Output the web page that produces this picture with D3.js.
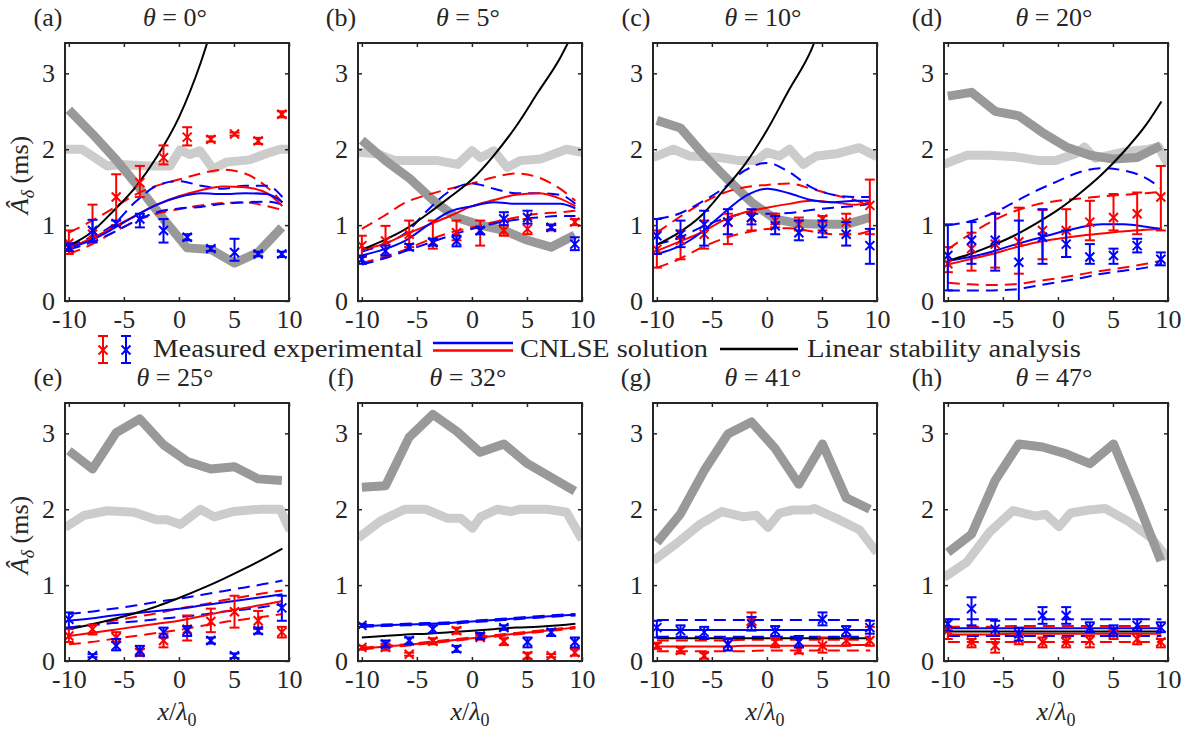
<!DOCTYPE html>
<html>
<head>
<meta charset="utf-8">
<script src="https://cdn.jsdelivr.net/npm/d3@7"></script>
<style>
  html, body { margin: 0; padding: 0; background: #ffffff; }
  svg { display: block; }
</style>
</head>
<body>
<svg id="fig" width="1191" height="731"></svg>
<script>
// ---- data ---------------------------------------------------------------
const panelTags = ["(a)", "(b)", "(c)", "(d)", "(e)", "(f)", "(g)", "(h)"];
const angles = [0, 5, 10, 20, 25, 32, 41, 47];
const xTicks = [-10, -5, 0, 5, 10];
const yTicks = [0, 1, 2, 3];

// measurement stations (x / lambda_0)
const xMeas = [-10.0, -7.85, -5.7, -3.55, -1.4, 0.75, 2.9, 5.05, 7.2, 9.35];

// measured amplitudes, one row per panel: mean, lower and upper error limits
const redMean = [
  [0.76, 0.88, 1.37, 1.56, 1.89, 2.16, 2.13, 2.20, 2.11, 2.46],
  [0.73, 0.79, 0.88, 0.78, 0.90, 0.93, 0.93, 0.95, 0.97, 1.04],
  [0.68, 0.80, 0.88, 1.04, 1.10, 1.06, 1.01, 1.08, 1.04, 1.26],
  [0.49, 0.69, 0.75, 0.78, 0.93, 0.93, 1.04, 1.10, 1.15, 1.37],
  [0.33, 0.42, 0.31, 0.11, 0.27, 0.42, 0.52, 0.65, 0.53, 0.38],
  [0.18, 0.18, 0.09, 0.26, 0.40, 0.31, 0.26, 0.07, 0.07, 0.11],
  [0.20, 0.14, 0.07, 0.22, 0.53, 0.25, 0.14, 0.20, 0.27, 0.27],
  [0.40, 0.25, 0.20, 0.29, 0.25, 0.25, 0.27, 0.36, 0.29, 0.25]
];
const redLow = [
  [0.62, 0.77, 1.00, 1.37, 1.80, 2.05, 2.10, 2.18, 2.07, 2.42],
  [0.58, 0.60, 0.71, 0.69, 0.80, 0.73, 0.86, 0.88, 0.93, 1.00],
  [0.44, 0.55, 0.69, 0.75, 0.93, 0.97, 0.93, 0.93, 0.88, 0.88],
  [0.38, 0.40, 0.44, 0.36, 0.55, 0.58, 0.80, 0.93, 0.88, 0.93],
  [0.25, 0.35, 0.25, 0.07, 0.18, 0.27, 0.38, 0.44, 0.42, 0.31],
  [0.15, 0.14, 0.07, 0.22, 0.36, 0.28, 0.21, 0.03, 0.05, 0.07],
  [0.16, 0.10, 0.03, 0.14, 0.47, 0.18, 0.10, 0.11, 0.20, 0.20],
  [0.29, 0.18, 0.11, 0.22, 0.18, 0.18, 0.18, 0.29, 0.22, 0.18]
];
const redHigh = [
  [0.93, 1.27, 1.67, 1.78, 2.05, 2.29, 2.17, 2.22, 2.15, 2.50],
  [0.86, 0.99, 1.06, 1.06, 1.06, 1.06, 1.06, 1.08, 1.01, 1.08],
  [0.93, 0.93, 1.06, 1.15, 1.17, 1.15, 1.10, 1.12, 1.15, 1.60],
  [0.71, 0.90, 1.15, 1.23, 1.20, 1.21, 1.32, 1.41, 1.43, 1.78],
  [0.42, 0.48, 0.38, 0.16, 0.36, 0.60, 0.69, 0.86, 0.66, 0.45],
  [0.20, 0.22, 0.11, 0.30, 0.44, 0.34, 0.30, 0.11, 0.09, 0.16],
  [0.24, 0.18, 0.11, 0.30, 0.64, 0.31, 0.18, 0.31, 0.33, 0.45],
  [0.44, 0.29, 0.29, 0.36, 0.31, 0.31, 0.33, 0.40, 0.36, 0.29]
];
const blueMean = [
  [0.71, 0.93, 1.02, 1.08, 0.93, 0.84, 0.69, 0.64, 0.62, 0.62],
  [0.55, 0.66, 0.71, 0.77, 0.79, 0.93, 1.08, 1.10, 0.97, 0.75],
  [0.86, 0.88, 1.01, 1.04, 1.10, 0.99, 0.90, 0.95, 0.88, 0.73],
  [0.60, 0.80, 0.80, 0.51, 0.84, 0.75, 0.58, 0.60, 0.73, 0.55],
  [0.55, 0.07, 0.20, 0.14, 0.38, 0.40, 0.27, 0.07, 0.40, 0.70],
  [0.47, 0.22, 0.27, 0.42, 0.16, 0.33, 0.44, 0.25, 0.38, 0.25],
  [0.44, 0.40, 0.38, 0.22, 0.49, 0.40, 0.25, 0.55, 0.40, 0.44],
  [0.49, 0.69, 0.42, 0.36, 0.60, 0.60, 0.44, 0.40, 0.47, 0.44]
];
const blueLow = [
  [0.66, 0.78, 0.99, 0.97, 0.77, 0.80, 0.66, 0.53, 0.59, 0.58],
  [0.49, 0.60, 0.67, 0.73, 0.72, 0.88, 1.00, 1.02, 0.94, 0.67],
  [0.62, 0.71, 0.73, 0.88, 1.01, 0.88, 0.80, 0.84, 0.73, 0.49],
  [0.14, 0.49, 0.40, 0.00, 0.49, 0.58, 0.49, 0.49, 0.64, 0.47],
  [0.44, 0.05, 0.14, 0.07, 0.31, 0.33, 0.23, 0.04, 0.36, 0.53],
  [0.45, 0.18, 0.22, 0.37, 0.12, 0.29, 0.41, 0.18, 0.33, 0.18],
  [0.31, 0.31, 0.29, 0.14, 0.40, 0.33, 0.18, 0.47, 0.33, 0.36],
  [0.40, 0.47, 0.33, 0.27, 0.49, 0.49, 0.38, 0.33, 0.40, 0.38]
];
const blueHigh = [
  [0.76, 1.07, 1.06, 1.15, 1.08, 0.88, 0.72, 0.82, 0.65, 0.65],
  [0.60, 0.73, 0.75, 0.82, 0.86, 0.97, 1.17, 1.19, 1.00, 0.84],
  [1.08, 1.06, 1.19, 1.21, 1.21, 1.12, 1.06, 1.06, 1.04, 0.95],
  [1.01, 1.04, 1.15, 1.06, 1.21, 0.93, 0.75, 0.69, 0.82, 0.64],
  [0.64, 0.09, 0.29, 0.20, 0.44, 0.46, 0.31, 0.10, 0.44, 0.86],
  [0.49, 0.27, 0.31, 0.47, 0.20, 0.37, 0.47, 0.31, 0.42, 0.31],
  [0.53, 0.47, 0.45, 0.29, 0.58, 0.46, 0.33, 0.64, 0.46, 0.53],
  [0.55, 0.84, 0.53, 0.44, 0.71, 0.71, 0.51, 0.47, 0.55, 0.51]
];

// reference amplitude traces (thick grey), [x, A] pairs per panel
const darkGrey = [
  [[-10, 2.52], [-7.85, 2.2], [-5.7, 1.86], [-3.55, 1.48], [-1.4, 1.08], [0.75, 0.7], [2.9, 0.68], [5.05, 0.5], [7.2, 0.64], [9.35, 0.97]],
  [[-10, 2.12], [-7.85, 1.85], [-5.7, 1.62], [-3.55, 1.33], [-1.4, 1.1], [0.75, 1.0], [2.9, 0.93], [5.05, 0.8], [7.2, 0.71], [9.35, 0.87]],
  [[-10, 2.38], [-7.85, 2.28], [-5.7, 1.92], [-3.55, 1.6], [-1.4, 1.3], [0.75, 1.08], [2.9, 1.02], [5.05, 1.01], [7.2, 1.01], [9.35, 1.1]],
  [[-10, 2.7], [-7.85, 2.75], [-5.7, 2.5], [-3.55, 2.44], [-1.4, 2.22], [0.75, 2.03], [2.9, 1.92], [5.05, 1.87], [7.2, 1.89], [9.35, 2.05]],
  [[-10, 2.77], [-7.85, 2.53], [-5.7, 3.01], [-3.55, 3.19], [-1.4, 2.85], [0.75, 2.63], [2.9, 2.53], [5.05, 2.56], [7.2, 2.4], [9.35, 2.38]],
  [[-10, 2.29], [-7.85, 2.31], [-5.7, 2.95], [-3.55, 3.25], [-1.4, 3.03], [0.75, 2.75], [2.9, 2.86], [5.05, 2.6], [7.2, 2.42], [9.35, 2.24]],
  [[-10, 1.56], [-7.85, 1.94], [-5.7, 2.51], [-3.55, 2.99], [-1.4, 3.15], [0.75, 2.8], [2.9, 2.33], [5.05, 2.86], [7.2, 2.15], [9.35, 2.0]],
  [[-10, 1.43], [-7.85, 1.67], [-5.7, 2.38], [-3.55, 2.86], [-1.4, 2.82], [0.75, 2.73], [2.9, 2.6], [5.05, 2.86], [7.2, 2.11], [9.35, 1.32]]
];
const lightGrey = [
  [[-10.35, 2.0], [-8.8, 2.0], [-6.5, 1.78], [-5.3, 1.8], [-2.9, 1.78], [-0.8, 1.78], [0.1, 1.99], [1.0, 1.93], [1.9, 1.98], [3.1, 1.74], [4.3, 1.83], [6.4, 1.86], [7.9, 1.94], [9.2, 2.0], [10, 2.0]],
  [[-10.35, 1.96], [-8.6, 1.94], [-7.0, 1.85], [-5.2, 1.85], [-3.1, 1.85], [-1.3, 1.8], [0.0, 1.98], [0.8, 1.89], [2.0, 1.98], [3.2, 1.76], [4.4, 1.85], [6.2, 1.87], [8.6, 2.0], [10, 1.96]],
  [[-10.35, 1.89], [-8.5, 2.0], [-7.0, 1.91], [-4.3, 1.89], [-2.5, 1.85], [-0.95, 1.85], [0.0, 1.96], [1.15, 1.91], [2.05, 2.0], [3.3, 1.8], [4.5, 1.91], [6.3, 1.94], [8.4, 2.02], [10, 1.9]],
  [[-10.35, 1.8], [-8.3, 1.92], [-6.2, 1.92], [-3.8, 1.9], [-1.7, 1.85], [-0.2, 1.85], [1.6, 1.94], [2.4, 2.03], [3.4, 1.88], [5.8, 1.96], [8.25, 2.0], [9.15, 2.03], [10, 1.8]],
  [[-10.35, 1.76], [-8.6, 1.92], [-6.5, 1.98], [-4.1, 1.96], [-2.0, 1.86], [-1.07, 1.86], [0.14, 1.8], [1.95, 2.0], [3.2, 1.9], [4.96, 1.97], [7.4, 2.0], [9.2, 2.0], [10.1, 1.72]],
  [[-10.35, 1.62], [-8.25, 1.85], [-6.1, 2.0], [-4.2, 2.0], [-2.2, 1.88], [-1.0, 1.88], [0.05, 1.75], [0.8, 1.9], [2.3, 2.0], [3.5, 1.97], [4.4, 2.0], [6.8, 2.0], [8.6, 1.96], [10, 1.6]],
  [[-10.35, 1.32], [-8.2, 1.55], [-6.1, 1.8], [-4.1, 1.97], [-2.15, 1.9], [-0.95, 1.92], [0.1, 1.76], [1.16, 1.95], [2.37, 1.99], [3.9, 1.99], [4.3, 2.01], [6.3, 1.88], [8.4, 1.73], [10, 1.43]],
  [[-10.35, 1.1], [-8.3, 1.3], [-6.2, 1.7], [-4.1, 1.98], [-2.0, 1.91], [-1.1, 1.93], [0.1, 1.77], [1.16, 1.95], [2.8, 1.99], [4.3, 2.01], [6.4, 1.84], [8.5, 1.62], [10, 1.35]]
];

// model curves sampled on a common grid
const xModel = [-10, -8, -6, -4, -2, 0, 2, 4, 6, 8, 9.4];
const stabilityCurve = [
  [0.73, 0.90, 1.18, 1.49, 1.90, 2.42, 3.15, 4.10, null, null, null],
  [0.68, 0.80, 0.95, 1.15, 1.37, 1.60, 1.92, 2.30, 2.75, 3.20, 3.60],
  [0.74, 0.90, 1.12, 1.45, 1.80, 2.25, 2.78, 3.30, 4.10, null, null],
  [0.53, 0.62, 0.73, 0.86, 1.02, 1.20, 1.42, 1.67, 1.97, 2.32, 2.63],
  [0.42, 0.48, 0.55, 0.63, 0.72, 0.83, 0.95, 1.08, 1.22, 1.37, 1.48],
  [0.31, 0.33, 0.35, 0.36, 0.38, 0.40, 0.42, 0.44, 0.45, 0.47, 0.49],
  [0.30, 0.30, 0.30, 0.30, 0.30, 0.30, 0.30, 0.30, 0.30, 0.30, 0.30],
  [0.39, 0.39, 0.39, 0.39, 0.39, 0.39, 0.39, 0.39, 0.39, 0.39, 0.39]
];
const redFit = [
  [0.70, 0.82, 0.97, 1.12, 1.27, 1.38, 1.46, 1.51, 1.50, 1.42, 1.25],
  [0.68, 0.75, 0.88, 1.00, 1.12, 1.25, 1.33, 1.40, 1.42, 1.35, 1.25],
  [0.66, 0.78, 0.90, 1.06, 1.17, 1.23, 1.28, 1.32, 1.30, 1.27, 1.30],
  [0.48, 0.55, 0.62, 0.70, 0.77, 0.82, 0.86, 0.89, 0.92, 0.94, 0.95],
  [0.33, 0.37, 0.41, 0.45, 0.49, 0.53, 0.59, 0.65, 0.70, 0.75, 0.79],
  [0.16, 0.19, 0.21, 0.24, 0.27, 0.30, 0.33, 0.36, 0.39, 0.42, 0.44],
  [0.19, 0.19, 0.19, 0.19, 0.20, 0.20, 0.20, 0.20, 0.20, 0.21, 0.21],
  [0.35, 0.35, 0.35, 0.36, 0.36, 0.36, 0.36, 0.36, 0.36, 0.36, 0.36]
];
const redFitHigh = [
  [0.90, 1.05, 1.22, 1.40, 1.52, 1.60, 1.68, 1.73, 1.68, 1.50, 1.30],
  [0.95, 1.12, 1.30, 1.40, 1.48, 1.55, 1.63, 1.68, 1.63, 1.48, 1.32],
  [0.90, 1.10, 1.28, 1.42, 1.50, 1.53, 1.55, 1.48, 1.40, 1.33, 1.25],
  [0.68, 0.88, 1.05, 1.18, 1.27, 1.32, 1.35, 1.38, 1.40, 1.42, 1.44],
  [0.44, 0.48, 0.53, 0.58, 0.63, 0.69, 0.74, 0.80, 0.85, 0.90, 0.93],
  [0.17, 0.20, 0.22, 0.25, 0.28, 0.31, 0.34, 0.37, 0.40, 0.43, 0.45],
  [0.27, 0.27, 0.27, 0.27, 0.28, 0.28, 0.28, 0.28, 0.28, 0.28, 0.28],
  [0.45, 0.45, 0.45, 0.46, 0.46, 0.46, 0.46, 0.46, 0.46, 0.46, 0.46]
];
const redFitLow = [
  [0.62, 0.74, 0.90, 1.05, 1.15, 1.21, 1.26, 1.29, 1.30, 1.25, 1.20],
  [0.50, 0.58, 0.68, 0.80, 0.90, 0.97, 1.04, 1.10, 1.15, 1.17, 1.19],
  [0.44, 0.55, 0.70, 0.82, 0.90, 0.95, 0.96, 0.92, 0.88, 0.88, 0.93],
  [0.24, 0.22, 0.21, 0.22, 0.26, 0.30, 0.35, 0.40, 0.44, 0.49, 0.53],
  [0.22, 0.25, 0.29, 0.33, 0.37, 0.41, 0.46, 0.51, 0.55, 0.59, 0.62],
  [0.15, 0.18, 0.20, 0.23, 0.26, 0.29, 0.32, 0.35, 0.38, 0.41, 0.43],
  [0.13, 0.13, 0.13, 0.13, 0.13, 0.14, 0.14, 0.14, 0.14, 0.14, 0.14],
  [0.25, 0.25, 0.25, 0.25, 0.25, 0.25, 0.25, 0.25, 0.25, 0.25, 0.25]
];
const blueFit = [
  [0.70, 0.80, 0.95, 1.12, 1.27, 1.37, 1.42, 1.41, 1.42, 1.41, 1.30],
  [0.60, 0.68, 0.80, 1.00, 1.18, 1.25, 1.30, 1.28, 1.28, 1.28, 1.22],
  [0.62, 0.72, 0.90, 1.15, 1.38, 1.48, 1.42, 1.33, 1.30, 1.32, 1.32],
  [0.53, 0.58, 0.65, 0.74, 0.82, 0.90, 0.97, 1.01, 1.01, 0.98, 0.95],
  [0.53, 0.56, 0.60, 0.63, 0.66, 0.69, 0.73, 0.77, 0.81, 0.85, 0.88],
  [0.46, 0.47, 0.48, 0.49, 0.50, 0.52, 0.54, 0.56, 0.58, 0.60, 0.61],
  [0.41, 0.41, 0.41, 0.41, 0.41, 0.41, 0.41, 0.41, 0.41, 0.41, 0.41],
  [0.43, 0.43, 0.43, 0.43, 0.43, 0.43, 0.43, 0.43, 0.43, 0.43, 0.43]
];
const blueFitHigh = [
  [0.72, 0.84, 1.00, 1.30, 1.52, 1.58, 1.52, 1.48, 1.52, 1.52, 1.37],
  [0.65, 0.75, 0.90, 1.20, 1.45, 1.55, 1.48, 1.42, 1.42, 1.40, 1.28],
  [1.08, 1.15, 1.30, 1.48, 1.72, 1.82, 1.70, 1.50, 1.40, 1.37, 1.37],
  [1.00, 1.05, 1.15, 1.30, 1.45, 1.58, 1.70, 1.75, 1.72, 1.62, 1.48],
  [0.62, 0.65, 0.69, 0.73, 0.78, 0.82, 0.87, 0.92, 0.97, 1.02, 1.06],
  [0.47, 0.48, 0.49, 0.50, 0.51, 0.53, 0.55, 0.57, 0.59, 0.61, 0.62],
  [0.54, 0.54, 0.54, 0.54, 0.54, 0.54, 0.54, 0.54, 0.54, 0.54, 0.54],
  [0.55, 0.55, 0.55, 0.55, 0.55, 0.55, 0.55, 0.55, 0.55, 0.55, 0.55]
];
const blueFitLow = [
  [0.68, 0.77, 0.90, 1.05, 1.17, 1.22, 1.24, 1.28, 1.30, 1.31, 1.27],
  [0.48, 0.56, 0.66, 0.76, 0.86, 0.95, 1.02, 1.07, 1.10, 1.12, 1.12],
  [0.75, 0.83, 0.97, 1.08, 1.15, 1.15, 1.16, 1.20, 1.23, 1.25, 1.28],
  [0.14, 0.14, 0.14, 0.15, 0.20, 0.25, 0.30, 0.36, 0.40, 0.44, 0.49],
  [0.44, 0.47, 0.50, 0.52, 0.55, 0.58, 0.61, 0.65, 0.68, 0.72, 0.75],
  [0.45, 0.46, 0.47, 0.48, 0.49, 0.51, 0.53, 0.55, 0.57, 0.59, 0.60],
  [0.32, 0.32, 0.32, 0.32, 0.32, 0.32, 0.32, 0.32, 0.32, 0.32, 0.32],
  [0.33, 0.33, 0.33, 0.33, 0.33, 0.33, 0.33, 0.33, 0.33, 0.33, 0.33]
];

// ---- layout & styles ------------------------------------------------------
const svg = d3.select("#fig");
const W = 224, H = 258;
const colLeft = [65, 358, 653, 944];
const rowTop = [43, 403];
const xDomain = [-10.35, 10];
const yDomain = [0, 3.4];
const RED = "#ff0000", BLUE = "#0000ff", INK = "#262626";
const GREY_DARK = "#999999", GREY_LIGHT = "#cccccc";
const SERIF = "Liberation Serif";
const FONT = 26;
const DASH = "12,7";

const defs = svg.append("defs");

function label(g, x, y) {
  return g.append("text").attr("x", x).attr("y", y)
    .style("font-family", SERIF).style("font-size", FONT + "px").attr("fill", INK);
}

function errorGlyph(g, cx, yLo, yMid, yHi, color) {
  const cap = 5, m = 4.5;
  const e = g.append("g").attr("stroke", color).attr("stroke-width", 2).attr("fill", "none");
  e.append("line").attr("x1", cx).attr("x2", cx).attr("y1", yLo).attr("y2", yHi);
  e.append("line").attr("x1", cx - cap).attr("x2", cx + cap).attr("y1", yLo).attr("y2", yLo);
  e.append("line").attr("x1", cx - cap).attr("x2", cx + cap).attr("y1", yHi).attr("y2", yHi);
  e.append("line").attr("x1", cx - m).attr("x2", cx + m).attr("y1", yMid - m).attr("y2", yMid + m);
  e.append("line").attr("x1", cx - m).attr("x2", cx + m).attr("y1", yMid + m).attr("y2", yMid - m);
}

angles.forEach((ang, i) => {
  const col = i % 4, row = Math.floor(i / 4);
  const left = colLeft[col], top = rowTop[row];
  const x = d3.scaleLinear().domain(xDomain).range([left, left + W]);
  const y = d3.scaleLinear().domain(yDomain).range([top + H, top]);

  const clipId = "plotclip" + i;
  defs.append("clipPath").attr("id", clipId)
    .append("rect").attr("x", left).attr("y", top).attr("width", W).attr("height", H);

  const panel = svg.append("g").attr("class", "panel");
  const plot = panel.append("g").attr("clip-path", `url(#${clipId})`);

  // thick grey reference traces
  const straight = d3.line().x(d => x(d[0])).y(d => y(d[1]));
  plot.append("path").attr("d", straight(lightGrey[i]))
    .attr("fill", "none").attr("stroke", GREY_LIGHT).attr("stroke-width", 9)
    .attr("stroke-linejoin", "round");
  plot.append("path").attr("d", straight(darkGrey[i]))
    .attr("fill", "none").attr("stroke", GREY_DARK).attr("stroke-width", 9)
    .attr("stroke-linejoin", "round");

  // CNLSE solution with its bounds, and the linear stability curve
  const smooth = d3.line().defined(d => d[1] !== null)
    .x(d => x(d[0])).y(d => y(d[1])).curve(d3.curveMonotoneX);
  const onGrid = vals => xModel.map((xv, k) => [xv, vals[k]]);
  const curve = (vals, color, dashed) => {
    const p = plot.append("path").attr("d", smooth(onGrid(vals)))
      .attr("fill", "none").attr("stroke", color).attr("stroke-width", 2);
    if (dashed) p.attr("stroke-dasharray", DASH);
  };
  curve(redFitHigh[i], RED, true);
  curve(redFitLow[i], RED, true);
  curve(blueFitHigh[i], BLUE, true);
  curve(blueFitLow[i], BLUE, true);
  curve(redFit[i], RED, false);
  curve(blueFit[i], BLUE, false);
  curve(stabilityCurve[i], "#000000", false);

  // measured points with error bars
  xMeas.forEach((xv, k) => {
    errorGlyph(plot, x(xv), y(redLow[i][k]), y(redMean[i][k]), y(redHigh[i][k]), RED);
  });
  xMeas.forEach((xv, k) => {
    errorGlyph(plot, x(xv), y(blueLow[i][k]), y(blueMean[i][k]), y(blueHigh[i][k]), BLUE);
  });

  // axes: labelled bottom/left, mirrored ticks top/right, all ticks inward
  const styleAxis = sel => {
    sel.attr("font-family", null).attr("font-size", null);
    sel.select(".domain").remove();
    sel.selectAll(".tick line").attr("stroke", INK).attr("stroke-width", 1.5);
    sel.selectAll(".tick text").attr("fill", INK)
      .style("font-family", SERIF).style("font-size", FONT + "px");
  };
  panel.append("g").attr("transform", `translate(0,${top + H})`)
    .call(d3.axisBottom(x).tickValues(xTicks).tickSize(-4).tickPadding(9)
      .tickFormat(d => d < 0 ? "-" + Math.abs(d) : String(d)))
    .call(styleAxis);
  panel.append("g").attr("transform", `translate(0,${top})`)
    .call(d3.axisTop(x).tickValues(xTicks).tickSize(-4).tickFormat(""))
    .call(styleAxis);
  panel.append("g").attr("transform", `translate(${left},0)`)
    .call(d3.axisLeft(y).tickValues(yTicks).tickSize(-4).tickPadding(10).tickFormat(d3.format("d")))
    .call(styleAxis);
  panel.append("g").attr("transform", `translate(${left + W},0)`)
    .call(d3.axisRight(y).tickValues(yTicks).tickSize(-4).tickFormat(""))
    .call(styleAxis);

  panel.append("rect").attr("x", left).attr("y", top).attr("width", W).attr("height", H)
    .attr("fill", "none").attr("stroke", INK).attr("stroke-width", 2);

  // panel tag and title
  label(panel, left - 17, top - 17).attr("text-anchor", "middle").text(panelTags[i]);
  const title = label(panel, left + W / 2 - 2, top - 17).attr("text-anchor", "middle");
  title.append("tspan").style("font-style", "italic").text("θ");
  title.append("tspan").text(" = " + ang + "°");

  // y label on the left column
  if (col === 0) {
    const yl = label(panel, 0, 0)
      .attr("transform", `translate(${left - 37},${top + H / 2 + 3}) rotate(-90)`)
      .attr("text-anchor", "middle");
    yl.append("tspan").style("font-style", "italic").text("Â");
    yl.append("tspan").style("font-style", "italic").style("font-size", "18px").attr("dy", 6).text("δ");
    yl.append("tspan").attr("dy", -6).text(" (ms)");
  }
  // x label on the bottom row
  if (row === 1) {
    const xl = label(panel, left + W / 2, top + H + 59).attr("text-anchor", "middle");
    xl.append("tspan").style("font-style", "italic").text("x");
    xl.append("tspan").text("/");
    xl.append("tspan").style("font-style", "italic").text("λ");
    xl.append("tspan").style("font-size", "18px").attr("dy", 6).text("0");
  }
});

// ---- legend ---------------------------------------------------------------
const legend = svg.append("g").attr("class", "legend");
errorGlyph(legend, 103, 363, 350, 336, RED);
errorGlyph(legend, 126, 363, 350, 336, BLUE);
label(legend, 153, 357).attr("textLength", 270).attr("lengthAdjust", "spacingAndGlyphs")
  .text("Measured experimental");
legend.append("line").attr("x1", 433).attr("x2", 513).attr("y1", 343).attr("y2", 343)
  .attr("stroke", BLUE).attr("stroke-width", 2.5);
legend.append("line").attr("x1", 433).attr("x2", 513).attr("y1", 350.5).attr("y2", 350.5)
  .attr("stroke", RED).attr("stroke-width", 2.5);
label(legend, 520, 357).attr("textLength", 188).attr("lengthAdjust", "spacingAndGlyphs")
  .text("CNLSE solution");
legend.append("line").attr("x1", 720).attr("x2", 798).attr("y1", 349).attr("y2", 349)
  .attr("stroke", "#000000").attr("stroke-width", 2.5);
label(legend, 807, 357).attr("textLength", 274).attr("lengthAdjust", "spacingAndGlyphs")
  .text("Linear stability analysis");
</script>
</body>
</html>
